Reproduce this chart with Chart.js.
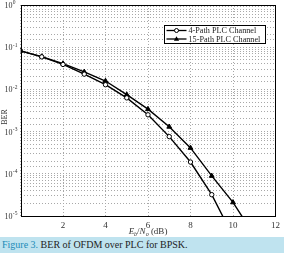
<!DOCTYPE html>
<html><head><meta charset="utf-8">
<script src="https://cdn.jsdelivr.net/npm/chart.js@4.4.0/dist/chart.umd.min.js"></script>
<style>
html,body{margin:0;padding:0;background:#fff;width:284px;height:253px;overflow:hidden;}
#wrap{position:relative;width:284px;height:237px;}
#cap{height:16px;line-height:16px;background:#bfe3ef;font-family:"Liberation Serif",serif;font-size:10px;color:#222;padding-left:2px;white-space:nowrap;}
#cap span{color:#1b8bb8;}
</style></head><body>
<div id="wrap"><canvas id="c" width="284" height="237"></canvas></div>
<div id="cap"><span>Figure 3.</span> BER of OFDM over PLC for BPSK.</div>
<script>
const snr4 = [0,1,2,3,4,5,6,7,8,9,10];
const ber4 = [0.082,0.059,0.039,0.023,0.0129,0.0063,0.0025,0.00076,0.00019,0.000032,0.0000033];
const snr15 = [0,1,2,3,4,5,6,7,8,9,10,11];
const ber15 = [0.082,0.06,0.041,0.026,0.0158,0.0075,0.0034,0.0013,0.00041,0.000089,0.000021,0.0000035];
const xTickLabels = ['', '2', '4', '6', '8', '10', '12'];
const yDecades = [0,-1,-2,-3,-4,-5];
const seriesNames = ['4-Path PLC Channel','15-Path PLC Channel'];
const FONT = '"Liberation Serif", serif';

const customPlugin = {
  id: 'custom',
  afterDraw(chart) {
    const ctx = chart.ctx, a = chart.chartArea, ys = chart.scales.y, xs = chart.scales.x;
    ctx.save();
    ctx.strokeStyle = '#000'; ctx.lineWidth = 1;
    ctx.strokeRect(Math.round(a.left)+0.5, Math.round(a.top)+0.5, Math.round(a.right-a.left)-1, Math.round(a.bottom-a.top));
    ctx.fillStyle = '#333';
    yDecades.forEach(e => {
      const y = ys.getPixelForValue(Math.pow(10, e));
      ctx.font = '8px ' + FONT; ctx.textAlign = 'right'; ctx.textBaseline = 'middle';
      ctx.fillText('10', 12.5, y + 1);
      ctx.font = '5.5px ' + FONT; ctx.textAlign = 'left';
      ctx.fillText(String(e), 12.8, y - 2);
    });
    ctx.save();
    ctx.translate(4.5, 117); ctx.rotate(-Math.PI/2);
    ctx.font = '8px ' + FONT; ctx.textAlign = 'center'; ctx.textBaseline = 'middle';
    ctx.fillText('BER', 0, 0);
    ctx.restore();
    const parts = [['E','italic 9px ',0],['b','italic 6px ',2],['/','9px ',0],['N','italic 9px ',0],['o','italic 6px ',2],[' (dB)','9px ',0]];
    let w = 0;
    parts.forEach(p => { ctx.font = p[1] + FONT; w += ctx.measureText(p[0]).width; });
    let x = (xs.getPixelForValue(6)) - w/2;
    ctx.textAlign = 'left'; ctx.textBaseline = 'alphabetic';
    parts.forEach(p => { ctx.font = p[1] + FONT; ctx.fillText(p[0], x, 234 + p[2]); x += ctx.measureText(p[0]).width; });
    const lx = 164.5, ly = 25.5, lw = 101, lh = 18;
    ctx.fillStyle = '#fff'; ctx.fillRect(lx, ly, lw, lh);
    ctx.strokeStyle = '#000'; ctx.lineWidth = 1; ctx.strokeRect(lx, ly, lw, lh);
    chart.data.datasets.forEach((ds, i) => {
      const cy = ly + 5 + i * 8.5;
      ctx.strokeStyle = '#000'; ctx.lineWidth = 1.3;
      ctx.beginPath(); ctx.moveTo(lx + 2, cy); ctx.lineTo(lx + 22, cy); ctx.stroke();
      const mx = lx + 12;
      ctx.lineWidth = 1;
      if (ds.pointStyle === 'circle') {
        ctx.beginPath(); ctx.arc(mx, cy, 2, 0, Math.PI*2); ctx.fillStyle = '#fff'; ctx.fill(); ctx.stroke();
      } else {
        ctx.beginPath(); ctx.moveTo(mx, cy - 2.8); ctx.lineTo(mx + 2.6, cy + 1.8); ctx.lineTo(mx - 2.6, cy + 1.8); ctx.closePath();
        ctx.fillStyle = '#000'; ctx.fill();
      }
      ctx.fillStyle = '#222'; ctx.font = '8.2px ' + FONT; ctx.textAlign = 'left'; ctx.textBaseline = 'middle';
      ctx.fillText(ds.label, lx + 24, cy + 0.5);
    });
    ctx.restore();
  }
};

new Chart(document.getElementById('c'), {
  type: 'line',
  data: {
    datasets: [
      { label: seriesNames[0], data: snr4.map((s,i)=>({x:s,y:ber4[i]})), borderColor:'#000', borderWidth:1.4,
        pointStyle:'circle', pointRadius:2.2, pointBackgroundColor:'#fff', pointBorderColor:'#000', pointBorderWidth:1, tension:0 },
      { label: seriesNames[1], data: snr15.map((s,i)=>({x:s,y:ber15[i]})), borderColor:'#000', borderWidth:1.4,
        pointStyle:'triangle', pointRadius:2.8, pointBackgroundColor:'#000', pointBorderColor:'#000', pointBorderWidth:1, tension:0 }
    ]
  },
  options: {
    responsive:false, animation:false, devicePixelRatio:1,
    layout:{padding:{top:4,right:6,left:0,bottom:0}},
    plugins:{legend:{display:false}, tooltip:{enabled:false}},
    scales:{
      x:{type:'linear', min:0, max:12,
        afterFit(s){ s.height = 21; },
        grid:{color:'#a8a8a8', lineWidth:1, drawTicks:false},
        border:{display:false, dash:[1,2]},
        ticks:{stepSize:2, padding:4, color:'#333', font:{family:FONT,size:9},
          callback:(v)=> xTickLabels[v/2] !== undefined ? xTickLabels[v/2] : ''},
      },
      y:{type:'logarithmic', min:1e-5, max:1,
        afterFit(s){ s.width = 20.5; },
        grid:{color:'#a8a8a8', lineWidth:1, drawTicks:false},
        border:{display:false, dash:[1,2]},
        ticks:{display:false}
      }
    }
  },
  plugins:[customPlugin]
});
</script>
</body></html>
